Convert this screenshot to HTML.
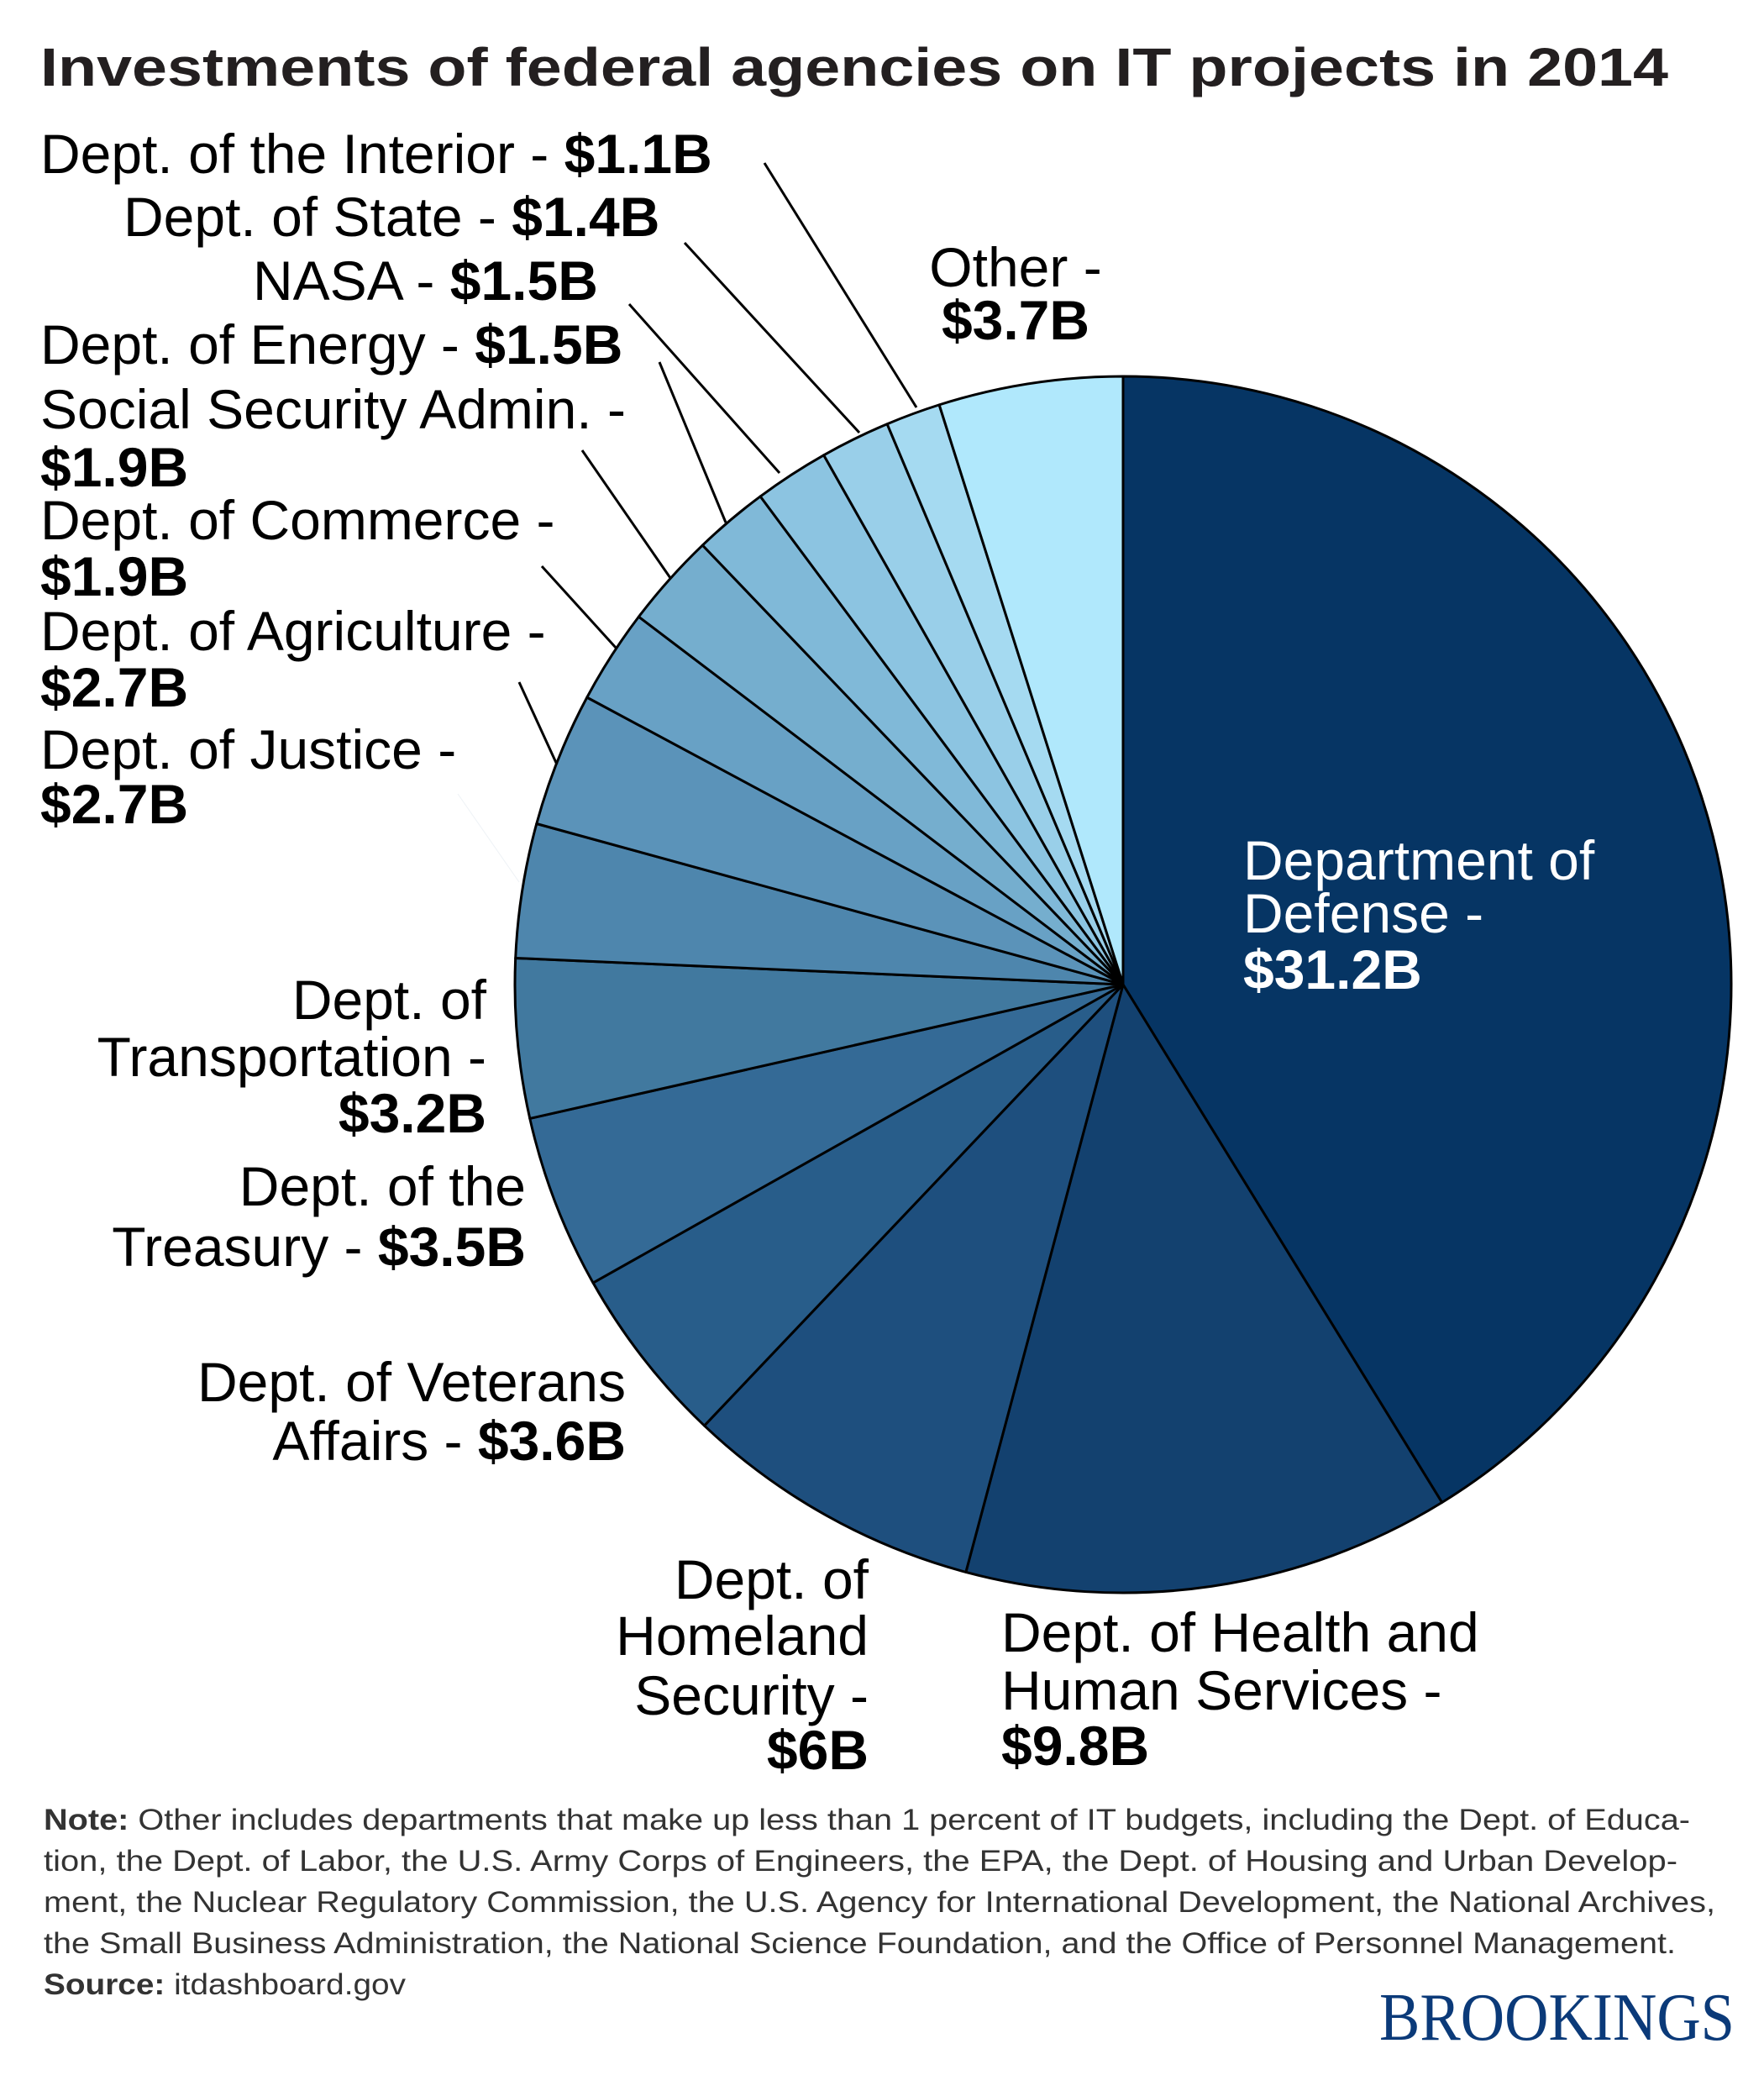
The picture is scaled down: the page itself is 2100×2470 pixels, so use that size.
<!DOCTYPE html>
<html><head><meta charset="utf-8"><style>
html,body{margin:0;padding:0;background:#fff;}
svg{display:block;font-family:"Liberation Sans",Arial,sans-serif;}
</style></head><body>
<svg id="chart" width="2100" height="2470" viewBox="0 0 2100 2470" xmlns="http://www.w3.org/2000/svg">
<rect width="2100" height="2470" fill="#fff"/>
<text x="48" y="102" font-size="64" font-weight="bold" fill="#231f20" textLength="1938" lengthAdjust="spacingAndGlyphs">Investments of federal agencies on IT projects in 2014</text>
<g id="slices"></g>
<g stroke="#000" stroke-width="3">
<line x1="910" y1="194" x2="1091" y2="485"/>
<line x1="815" y1="289" x2="1023" y2="515"/>
<line x1="749" y1="362" x2="928" y2="563"/>
<line x1="785" y1="431" x2="864" y2="622"/>
<line x1="693" y1="536" x2="798" y2="688"/>
<line x1="645" y1="674" x2="734" y2="772"/>
<line x1="618" y1="812" x2="663" y2="910"/>
<line x1="545" y1="945" x2="618" y2="1050" stroke="#eef2f6" stroke-width="1"/>
</g>
<g font-size="66" fill="#000">
<text x="48" y="206">Dept. of the Interior - <tspan font-weight="bold">$1.1B</tspan></text>
<text x="147" y="281">Dept. of State - <tspan font-weight="bold">$1.4B</tspan></text>
<text x="301" y="357">NASA - <tspan font-weight="bold">$1.5B</tspan></text>
<text x="48" y="433">Dept. of Energy - <tspan font-weight="bold">$1.5B</tspan></text>
<text x="48" y="510">Social Security Admin. -<tspan x="48" y="579" font-weight="bold">$1.9B</tspan></text>
<text x="48" y="642">Dept. of Commerce -<tspan x="48" y="709" font-weight="bold">$1.9B</tspan></text>
<text x="48" y="774">Dept. of Agriculture -<tspan x="48" y="841" font-weight="bold">$2.7B</tspan></text>
<text x="48" y="915">Dept. of Justice -<tspan x="48" y="980" font-weight="bold">$2.7B</tspan></text>
<text x="1209" y="341" text-anchor="middle">Other -<tspan x="1209" y="404" font-weight="bold">$3.7B</tspan></text>
<text text-anchor="end"><tspan x="579" y="1213">Dept. of</tspan><tspan x="579" y="1281">Transportation -</tspan><tspan x="579" y="1348" font-weight="bold">$3.2B</tspan></text>
<text text-anchor="end"><tspan x="626" y="1435">Dept. of the</tspan><tspan x="626" y="1507">Treasury - <tspan font-weight="bold">$3.5B</tspan></tspan></text>
<text text-anchor="end"><tspan x="745" y="1668">Dept. of Veterans</tspan><tspan x="745" y="1738">Affairs - <tspan font-weight="bold">$3.6B</tspan></tspan></text>
<text text-anchor="end"><tspan x="1034" y="1903">Dept. of</tspan><tspan x="1034" y="1970">Homeland</tspan><tspan x="1034" y="2041">Security -</tspan><tspan x="1034" y="2106" font-weight="bold">$6B</tspan></text>
<text><tspan x="1192" y="1966">Dept. of Health and</tspan><tspan x="1192" y="2035">Human Services -</tspan><tspan x="1192" y="2101" font-weight="bold">$9.8B</tspan></text>
<text fill="#fff"><tspan x="1480" y="1047">Department of</tspan><tspan x="1480" y="1110">Defense -</tspan><tspan x="1480" y="1177" font-weight="bold">$31.2B</tspan></text>
</g>
<g font-size="35" fill="#333">
<text x="52" y="2178" textLength="1960" lengthAdjust="spacingAndGlyphs"><tspan font-weight="bold">Note:</tspan> Other includes departments that make up less than 1 percent of IT budgets, including the Dept. of Educa-</text>
<text x="52" y="2227" textLength="1945" lengthAdjust="spacingAndGlyphs">tion, the Dept. of Labor, the U.S. Army Corps of Engineers, the EPA, the Dept. of Housing and Urban Develop-</text>
<text x="52" y="2276" textLength="1990" lengthAdjust="spacingAndGlyphs">ment, the Nuclear Regulatory Commission, the U.S. Agency for International Development, the National Archives,</text>
<text x="52" y="2325" textLength="1943" lengthAdjust="spacingAndGlyphs">the Small Business Administration, the National Science Foundation, and the Office of Personnel Management.</text>
<text x="52" y="2374" textLength="431" lengthAdjust="spacingAndGlyphs"><tspan font-weight="bold">Source:</tspan> itdashboard.gov</text>
</g>
<text x="1642" y="2428" font-family="'Liberation Serif',serif" font-size="80" fill="#0b3a79" textLength="423" lengthAdjust="spacingAndGlyphs">BROOKINGS</text>
</svg>
<script>
const categories = ["Defense","Health and Human Services","Homeland Security","Veterans Affairs","Treasury","Transportation","Justice","Agriculture","Commerce","Social Security Admin.","Energy","NASA","State","Interior","Other"];
const values = [31.2,9.8,6,3.6,3.5,3.2,2.7,2.7,1.9,1.9,1.5,1.5,1.4,1.1,3.7];
const colors = ["#063564","#13416f","#1e4f7e","#285d8a","#346a96","#41799f","#4e86ad","#5b93b9","#68a1c5","#75aece","#80b9d8","#8cc4e1","#99cfe9","#a5daf1","#b0e8fc"];
const cx = 1337, cy = 1172, r = 724;
const total = values.reduce((a,b)=>a+b,0);
function angleOf(v){ return v/total*2*Math.PI; }
function pt(a){ return [cx + r*Math.sin(a), cy - r*Math.cos(a)]; }
const g = document.getElementById('slices');
let start = 0;
values.forEach((v,i)=>{
  const end = start + angleOf(v);
  const [x1,y1] = pt(start), [x2,y2] = pt(end);
  const large = (end-start) > Math.PI ? 1 : 0;
  const p = document.createElementNS('http://www.w3.org/2000/svg','path');
  p.setAttribute('d', `M${cx},${cy} L${x1},${y1} A${r},${r} 0 ${large} 1 ${x2},${y2} Z`);
  p.setAttribute('fill', colors[i]);
  p.setAttribute('stroke', '#000');
  p.setAttribute('stroke-width', '3');
  p.setAttribute('stroke-linejoin', 'round');
  
  
  g.appendChild(p);
  start = end;
});
</script>
</body></html>
